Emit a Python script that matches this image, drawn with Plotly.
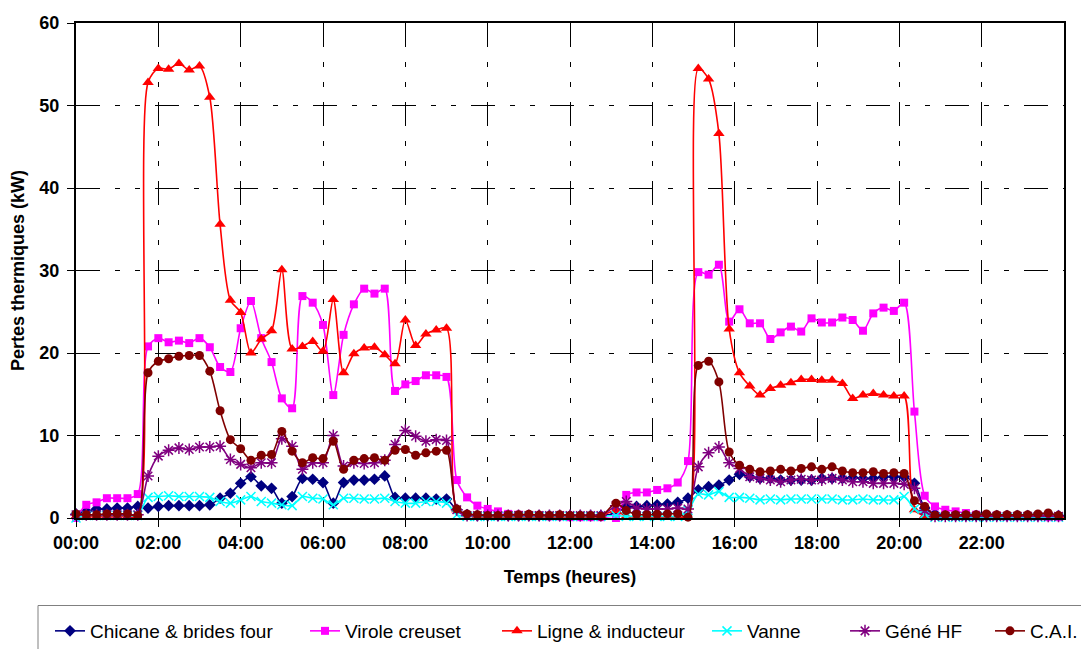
import plotly.graph_objects as go

# Sampling times (HH:MM); the afternoon log is offset by a few minutes
times = [
    "00:00", "00:15", "00:30", "00:45", "01:00", "01:15", "01:30", "01:45",
    "02:00", "02:15", "02:30", "02:45", "03:00", "03:15", "03:30", "03:45",
    "04:00", "04:15", "04:30", "04:45", "05:00", "05:15", "05:30", "05:45",
    "06:00", "06:15", "06:30", "06:45", "07:00", "07:15", "07:30", "07:45",
    "08:00", "08:15", "08:30", "08:45", "09:00", "09:15", "09:30", "09:45",
    "10:00", "10:15", "10:30", "10:45", "11:00", "11:15", "11:30", "11:45",
    "12:00", "12:15", "12:30", "12:45", "13:07", "13:22", "13:37", "13:52",
    "14:07", "14:22", "14:37", "14:52", "15:07", "15:22", "15:37", "15:52",
    "16:07", "16:22", "16:37", "16:52", "17:07", "17:22", "17:37", "17:52",
    "18:07", "18:22", "18:37", "18:52", "19:07", "19:22", "19:37", "19:52",
    "20:07", "20:22", "20:37", "20:52", "21:07", "21:22", "21:37", "21:52",
    "22:07", "22:22", "22:37", "22:52", "23:07", "23:22", "23:37", "23:52",
]

chicane = [
    0.5, 0.8, 1.1, 1.1, 1.2, 1.2, 1.4, 1.2, 1.4, 1.5, 1.5, 1.5, 1.5, 1.6, 2.4, 3.0,
    4.2, 5.0, 3.9, 3.6, 1.8, 2.6, 4.8, 4.7, 4.3, 1.8, 4.3, 4.6, 4.6, 4.7, 5.1, 2.5,
    2.4, 2.4, 2.4, 2.3, 2.3, 1.0, 0.4, 0.3, 0.3, 0.3, 0.3, 0.3, 0.3, 0.3, 0.3, 0.3,
    0.3, 0.3, 0.3, 0.3, 0.6, 1.3, 1.4, 1.5, 1.6, 1.7, 1.9, 2.4, 3.4, 3.8, 4.0, 4.6,
    5.3, 5.0, 4.8, 4.8, 4.6, 4.6, 4.6, 4.6, 4.8, 4.8, 4.8, 4.9, 4.8, 4.8, 5.0, 5.0,
    5.0, 4.2, 1.2, 0.5, 0.4, 0.3, 0.3, 0.3, 0.3, 0.3, 0.3, 0.3, 0.3, 0.3, 0.3, 0.3,
]

virole = [
    0.0, 1.6, 1.9, 2.4, 2.4, 2.4, 2.9, 20.8, 21.8, 21.3, 21.5, 21.2, 21.8, 20.7, 18.3, 17.7,
    23.0, 26.3, 21.8, 18.9, 14.5, 13.3, 26.9, 26.1, 23.4, 14.9, 22.2, 25.9, 27.8, 27.2, 27.8, 15.4,
    16.2, 16.6, 17.3, 17.3, 17.1, 4.6, 2.5, 1.5, 1.1, 0.8, 0.5, 0.4, 0.3, 0.3, 0.2, 0.2,
    0.1, 0.1, 0.1, 0.1, 0.0, 2.8, 3.1, 3.1, 3.4, 3.6, 4.3, 6.9, 29.8, 29.5, 30.7, 23.8,
    25.3, 23.6, 23.6, 21.7, 22.5, 23.2, 22.6, 24.2, 23.7, 23.7, 24.3, 24.0, 22.7, 24.8, 25.5, 25.1,
    26.1, 12.9, 2.7, 1.4, 1.0, 0.8, 0.6, 0.4, 0.3, 0.3, 0.2, 0.2, 0.2, 0.2, 0.1, 0.1,
]

ligne = [
    0.2, 0.2, 0.2, 0.2, 0.2, 0.2, 0.1, 52.8, 54.5, 54.4, 55.1, 54.3, 54.8, 51.0, 35.6, 26.4,
    24.9, 20.0, 21.7, 22.7, 30.1, 20.5, 20.8, 21.4, 20.2, 26.5, 17.6, 19.9, 20.6, 20.7, 19.8, 18.7,
    24.0, 20.9, 22.3, 22.8, 23.0, 1.0, 0.4, 0.3, 0.3, 0.3, 0.3, 0.3, 0.3, 0.3, 0.3, 0.3,
    0.3, 0.3, 0.3, 0.3, 0.9, 0.2, 0.1, 0.1, 0.1, 0.1, 0.1, 0.1, 54.5, 53.2, 46.6, 22.9,
    17.6, 16.0, 14.9, 15.7, 16.1, 16.4, 16.8, 16.8, 16.7, 16.7, 16.3, 14.5, 14.9, 15.1, 14.9, 14.8,
    14.8, 1.0, 0.3, 0.3, 0.3, 0.3, 0.3, 0.3, 0.3, 0.3, 0.3, 0.3, 0.3, 0.3, 0.3, 0.3,
]

vanne = [
    0.0, 0.3, 0.3, 0.3, 0.3, 0.3, 0.3, 2.5, 2.6, 2.7, 2.6, 2.6, 2.6, 2.5, 2.0, 1.8,
    2.2, 2.6, 2.0, 1.8, 1.6, 1.5, 2.6, 2.4, 2.3, 1.6, 2.4, 2.4, 2.3, 2.3, 2.4, 2.0,
    1.8, 1.8, 2.0, 2.0, 1.8, 0.4, 0.2, 0.2, 0.2, 0.2, 0.2, 0.2, 0.2, 0.2, 0.2, 0.2,
    0.2, 0.2, 0.2, 0.2, 0.3, 0.2, 0.2, 0.2, 0.2, 0.2, 0.2, 0.9, 2.9, 2.8, 3.2, 2.5,
    2.5, 2.4, 2.2, 2.3, 2.2, 2.3, 2.3, 2.3, 2.3, 2.3, 2.2, 2.2, 2.3, 2.2, 2.2, 2.2,
    2.6, 1.1, 0.5, 0.1, 0.1, 0.1, 0.1, 0.1, 0.1, 0.1, 0.1, 0.1, 0.1, 0.1, 0.1, 0.1,
]

gene_hf = [
    0.4, 0.4, 0.4, 0.4, 0.4, 0.4, 0.4, 5.1, 7.5, 8.2, 8.5, 8.3, 8.6, 8.6, 8.7, 7.1,
    6.5, 6.1, 6.7, 6.7, 9.6, 8.7, 5.9, 6.7, 6.7, 10.0, 6.3, 6.7, 6.6, 6.7, 7.0, 8.9,
    10.6, 9.9, 9.3, 9.5, 9.4, 1.0, 0.3, 0.3, 0.3, 0.3, 0.3, 0.3, 0.3, 0.3, 0.3, 0.3,
    0.3, 0.3, 0.3, 0.3, 1.5, 2.0, 1.2, 1.1, 1.1, 1.1, 1.2, 1.1, 6.2, 7.9, 8.6, 6.7,
    6.0, 5.0, 4.8, 4.6, 4.4, 4.6, 4.7, 4.6, 4.6, 4.8, 4.6, 4.4, 4.4, 4.2, 4.2, 4.2,
    4.1, 3.6, 0.9, 0.2, 0.2, 0.2, 0.2, 0.2, 0.2, 0.2, 0.2, 0.2, 0.2, 0.2, 0.2, 0.2,
]

cai = [
    0.5, 0.4, 0.4, 0.5, 0.5, 0.5, 0.3, 17.6, 19.0, 19.3, 19.6, 19.7, 19.7, 17.8, 13.0, 9.5,
    8.4, 7.0, 7.6, 7.7, 10.5, 8.1, 6.7, 7.3, 7.2, 9.3, 5.9, 7.0, 7.2, 7.3, 7.0, 8.2,
    8.3, 7.6, 7.9, 8.1, 8.2, 1.1, 0.5, 0.4, 0.3, 0.3, 0.4, 0.4, 0.45, 0.35, 0.3, 0.4,
    0.3, 0.3, 0.3, 0.2, 1.8, 0.9, 0.45, 0.4, 0.45, 0.5, 0.5, 0.1, 18.5, 19.0, 16.5, 8.0,
    6.4, 5.9, 5.6, 5.7, 5.9, 5.7, 6.0, 6.2, 5.9, 6.2, 5.7, 5.5, 5.5, 5.6, 5.4, 5.5,
    5.4, 2.1, 1.4, 0.3, 0.4, 0.4, 0.4, 0.4, 0.5, 0.4, 0.4, 0.4, 0.4, 0.5, 0.6, 0.3,
]

tick_hours = [0, 2, 4, 6, 8, 10, 12, 14, 16, 18, 20, 22]
tick_labels = ["00:00", "02:00", "04:00", "06:00", "08:00", "10:00",
               "12:00", "14:00", "16:00", "18:00", "20:00", "22:00"]

hours = [int(t[:2]) + int(t[3:]) / 60 for t in times]

FONT = "Liberation Sans, Arial, sans-serif"
W, H = 1081, 649
L, R, T, B = 76, 17, 23, 131
PW, PH = W - L - R, H - T - B


def px_x(p):
    return (p - L) / PW


def px_y(p):
    return (H - B - p) / PH


series = [
    ("Chicane & brides four", chicane, "#000080", "diamond", 9, None),
    ("Virole creuset", virole, "#FF00FF", "square", 8, None),
    ("Ligne & inducteur", ligne, "#FF0000", "triangle-up", 10, None),
    ("Vanne", vanne, "#00FFFF", "x-thin-open", 9, 1.5),
    ("Géné HF", gene_hf, "#800080", "asterisk-open", 10, 1.5),
    ("C.A.I.", cai, "#800000", "circle", 9, None),
]

# left edge of each legend entry (pixels)
legend_px = [50, 305, 497, 707, 845, 990]

fig = go.Figure()
layout_legends = {}
for k, (name, vals, col, sym, size, lw) in enumerate(series):
    key = "legend" if k == 0 else f"legend{k + 1}"
    marker = dict(symbol=sym, size=size, color=col)
    if lw:
        marker["line"] = dict(color=col, width=lw)
    fig.add_trace(go.Scatter(
        x=hours, y=vals, name=name, mode="lines+markers",
        line=dict(color=col, width=1.6, shape="spline", smoothing=0.8),
        marker=marker, cliponaxis=False, legend=key,
    ))
    layout_legends[key] = dict(
        x=px_x(legend_px[k]), y=px_y(631), xanchor="left", yanchor="middle",
        orientation="h", bgcolor="rgba(0,0,0,0)", borderwidth=0,
        font=dict(family=FONT, size=19, color="#000"),
    )

grid_dash = "24px,15px,5px,15px,5px,15px"

fig.update_layout(
    width=W, height=H,
    margin=dict(l=L, r=R, t=T, b=B, autoexpand=False),
    paper_bgcolor="white", plot_bgcolor="white",
    font=dict(family=FONT, size=18, color="#000"),
    showlegend=True,
    **layout_legends,
    xaxis=dict(
        range=[0, 24], tickvals=tick_hours, ticktext=tick_labels,
        showline=True, linecolor="#000", linewidth=2, mirror=True,
        ticks="outside", ticklen=7, tickcolor="#000", tickwidth=1,
        showgrid=True, gridcolor="#000", gridwidth=1, griddash=grid_dash,
        zeroline=False,
        tickfont=dict(family=FONT, size=18, color="#000", weight="bold"),
        title=dict(text="<b>Temps (heures)</b>", standoff=19,
                   font=dict(family=FONT, size=18, color="#000")),
    ),
    yaxis=dict(
        range=[0, 60], dtick=10,
        showline=True, linecolor="#000", linewidth=2, mirror=True,
        ticks="outside", ticklen=7, tickcolor="#000", tickwidth=1,
        showgrid=True, gridcolor="#000", gridwidth=1, griddash=grid_dash,
        zeroline=False, ticklabelstandoff=4,
        tickfont=dict(family=FONT, size=18, color="#000", weight="bold"),
        title=dict(text="<b>Pertes thermiques (kW)</b>", standoff=10,
                   font=dict(family=FONT, size=18, color="#000")),
    ),
    shapes=[dict(
        type="rect", xref="paper", yref="paper",
        x0=px_x(38), x1=px_x(1095), y0=px_y(605.5), y1=px_y(665),
        line=dict(color="#808080", width=1), fillcolor="rgba(0,0,0,0)",
        layer="below",
    )],
)

fig.write_html("out.html")
